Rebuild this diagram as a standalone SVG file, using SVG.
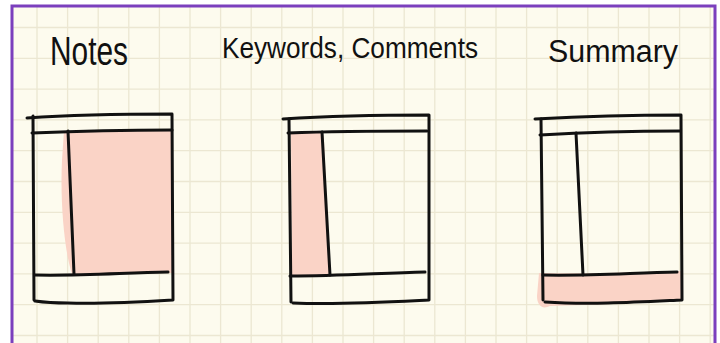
<svg xmlns="http://www.w3.org/2000/svg" width="720" height="343" viewBox="0 0 720 343">
<defs>
<style>
.grid{stroke:#ece7d2;stroke-width:1.3;fill:none}
.ink{stroke:#111;stroke-width:3;fill:none;stroke-linecap:round;stroke-linejoin:round}
.hl{fill:#fad3c6;stroke:none}
.hand{font-family:"Liberation Sans","DejaVu Sans",sans-serif;fill:#111}
</style>
</defs>
<rect x="0" y="0" width="720" height="343" fill="#ffffff"/>
<rect x="12" y="6" width="703" height="340" fill="#fdfbee"/>
<g id="grid">
<path class="grid" d="M37,6V343M67.6,6V343M98.2,6V343M128.8,6V343M159.4,6V343M190,6V343M220.6,6V343M251.2,6V343M281.8,6V343M312.4,6V343M343,6V343M373.6,6V343M404.2,6V343M434.8,6V343M465.4,6V343M496,6V343M526.6,6V343M557.2,6V343M587.8,6V343M618.4,6V343M649,6V343M679.6,6V343M710.2,6V343"/>
<path class="grid" d="M12,27.5H715M12,58.3H715M12,89.1H715M12,119.9H715M12,150.7H715M12,181.5H715M12,212.3H715M12,243.1H715M12,273.9H715M12,304.7H715M12,335.5H715"/>
</g>
<path d="M12,343V6H715V343" fill="none" stroke="#7b3fbd" stroke-width="3"/>
<g id="title-notes"><text class="hand" x="50" y="65" font-size="40" textLength="78" lengthAdjust="spacingAndGlyphs">Notes</text></g>
<g id="title-keywords"><text class="hand" x="222" y="58" font-size="29" textLength="256" lengthAdjust="spacingAndGlyphs">Keywords, Comments</text></g>
<g id="title-summary"><text class="hand" x="548" y="62" font-size="31" textLength="130" lengthAdjust="spacingAndGlyphs">Summary</text></g>
<g id="page-notes">
<path class="hl" d="M64,131 L172,130 L172,273 L72,274 C64,250 60,200 62,160 Z"/>
<path class="ink" d="M27,118 C70,115 130,114 172,114 L173,300 C140,302 100,304 68,303 C55,303 42,302 35,301"/>
<path class="ink" d="M33,116 L34,300"/>
<path class="ink" d="M32,133 C80,131 130,130 172,130"/>
<path class="ink" d="M68,131 L74,274"/>
<path class="ink" d="M35,275 C80,276 120,273 168,272"/>
</g>
<g id="page-keywords">
<path class="hl" d="M291,133 L318,131 C322,131 324,135 324,140 L330,275 L292,276 Z"/>
<path class="ink" d="M283,119 C330,116 390,115 429,115 L429,300 C390,302 340,305 293,303"/>
<path class="ink" d="M289,119 L291,302"/>
<path class="ink" d="M288,133 C340,131 390,131 427,131"/>
<path class="ink" d="M322,132 L330,275"/>
<path class="ink" d="M290,276 C340,276 380,273 425,272"/>
</g>
<g id="page-summary">
<path class="hl" d="M539,273 C600,274 640,272 681,271 L682,300 C640,303 590,305 550,306 C542,310 537,305 537,296 Z"/>
<path class="ink" d="M535,119 C590,116 640,115 681,115 L682,300 C640,302 590,305 545,302"/>
<path class="ink" d="M541,119 L543,300"/>
<path class="ink" d="M540,135 C590,132 640,131 680,131"/>
<path class="ink" d="M576,133 L583,275"/>
<path class="ink" d="M543,275 C590,276 630,273 677,272"/>
</g>
</svg>
